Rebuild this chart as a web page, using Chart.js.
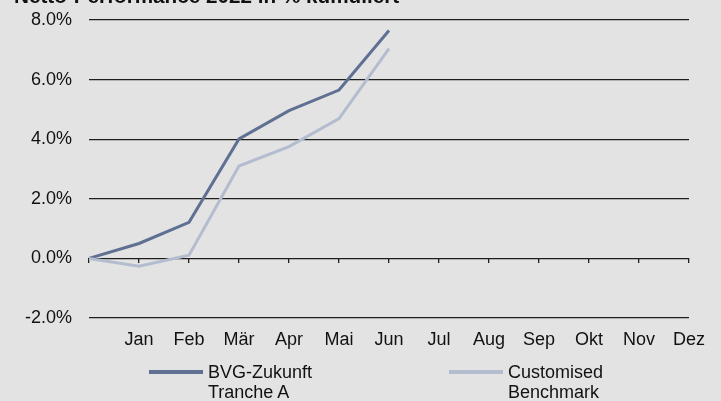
<!DOCTYPE html>
<html>
<head>
<meta charset="utf-8">
<script src="https://cdn.jsdelivr.net/npm/chart.js@4"></script>
<style>
  html, body { margin: 0; padding: 0; background: #e3e3e3; overflow: hidden; }
  #wrap { position: relative; width: 721px; height: 401px; background: #e3e3e3; overflow: hidden; }
  #title { position: absolute; left: 14px; top: -14px; font: bold 20.7px 'Liberation Sans', Arial, sans-serif; line-height: 20px; color: #111; white-space: nowrap; }
  canvas { position: absolute; left: 0; top: 0; }
  .leg { position: absolute; top: 361.5px; font: 18px 'Liberation Sans', Arial, sans-serif; line-height: 20.5px; color: #111; }
  .sw { position: absolute; top: 370px; height: 4px; width: 54px; }
</style>
</head>
<body>
<div id="wrap">
  <canvas id="c" width="721" height="401"></canvas>
  <div id="title">Netto-Performance 2022 in % kumuliert</div>
  <div id="legend"></div>
</div>
<script>
const chartTitle = 'Netto-Performance 2022 in % kumuliert';
const categories = ['', 'Jan', 'Feb', 'Mär', 'Apr', 'Mai', 'Jun', 'Jul', 'Aug', 'Sep', 'Okt', 'Nov', 'Dez'];
const seriesNames = [['BVG-Zukunft', 'Tranche A'], ['Customised', 'Benchmark']];
const bvgValues = [0.0, 0.50, 1.21, 4.01, 4.96, 5.65, 7.65, null, null, null, null, null, null];
const benchValues = [0.0, -0.26, 0.11, 3.10, 3.75, 4.69, 7.04, null, null, null, null, null, null];
const yTicks = [-2, 0, 2, 4, 6, 8];
const seriesColors = ['#5f7093', '#b4bdcf'];

Chart.defaults.font.family = "'Liberation Sans', Arial, sans-serif";
Chart.defaults.font.size = 18;
Chart.defaults.color = '#111';

function noPad(s) { s.paddingTop = 0; s.paddingBottom = 0; s.paddingLeft = 0; s.paddingRight = 0; }

const chart = new Chart(document.getElementById('c'), {
  type: 'line',
  data: {
    labels: categories,
    datasets: [
      { label: seriesNames[0].join(' '), data: bvgValues, borderColor: seriesColors[0], backgroundColor: seriesColors[0], borderWidth: 3, pointRadius: 0, tension: 0, spanGaps: false },
      { label: seriesNames[1].join(' '), data: benchValues, borderColor: seriesColors[1], backgroundColor: seriesColors[1], borderWidth: 3, pointRadius: 0, tension: 0, spanGaps: false }
    ].reverse()
  },
  options: {
    responsive: false,
    animation: false,
    layout: { padding: { left: 0, right: 32, top: 20, bottom: 39 } },
    plugins: { legend: { display: false }, tooltip: { enabled: false }, title: { display: false } },
    scales: {
      x: {
        type: 'category',
        position: 'bottom',
        offset: false,
        grid: { display: false, drawTicks: false },
        border: { display: false },
        ticks: { padding: 11, autoSkip: false, maxRotation: 0 },
        afterFit: (s) => { s.height = 44; noPad(s); }
      },
      x0: {
        type: 'category',
        labels: categories,
        position: { y: 0 },
        offset: false,
        grid: { display: true, drawOnChartArea: false, drawTicks: true, tickLength: 5, color: '#1e1e1e', lineWidth: 1.3 },
        border: { display: false },
        ticks: { display: false },
        afterFit: (s) => { noPad(s); }
      },
      y: {
        min: -2, max: 8,
        afterBuildTicks: (s) => { s.ticks = yTicks.map(v => ({ value: v })); },
        grid: { color: '#1e1e1e', lineWidth: 1.3, drawTicks: false },
        border: { display: false },
        ticks: { padding: 17, callback: (v) => Number(v).toFixed(1) + '%' },
        afterFit: (s) => { s.width = 89; noPad(s); }
      }
    }
  }
});

// HTML legend built from series names/colors
const legend = document.getElementById('legend');
const legendLeft = [149, 449];
seriesNames.forEach((name, i) => {
  const sw = document.createElement('div');
  sw.className = 'sw';
  sw.style.left = legendLeft[i] + 'px';
  sw.style.background = seriesColors[i];
  legend.appendChild(sw);
  const t = document.createElement('div');
  t.className = 'leg';
  t.style.left = (legendLeft[i] + 59) + 'px';
  t.innerHTML = name.join('<br>');
  legend.appendChild(t);
});
</script>
</body>
</html>
